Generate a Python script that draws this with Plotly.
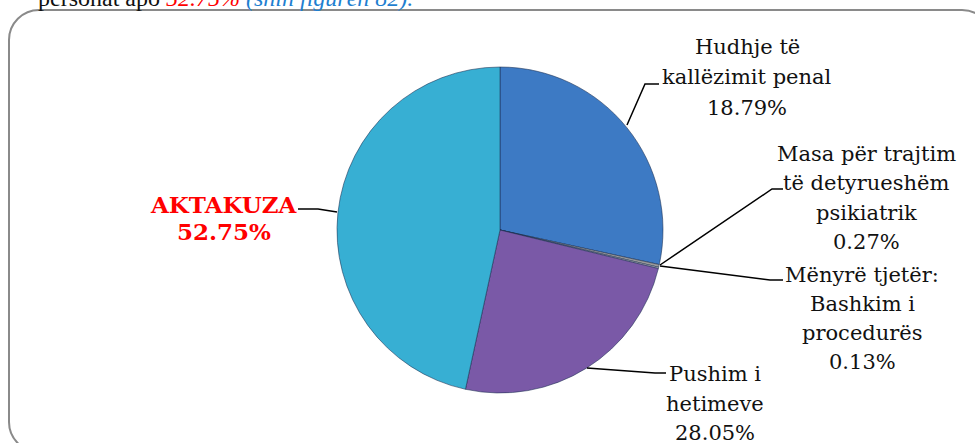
import plotly.graph_objects as go

W, H = 975, 443

# ---- data ----
categories = [
    "Hudhje të|kallëzimit penal",
    "Masa për trajtim|të detyrueshëm|psikiatrik",
    "Mënyrë tjetër:|Bashkim i|procedurës",
    "Pushim i|hetimeve",
    "AKTAKUZA",
]
pct_labels = ["18.79%", "0.27%", "0.13%", "28.05%", "52.75%"]
# slice sizes as drawn in the picture (angles measured)
slice_sizes = [28.4, 0.27, 0.13, 24.6, 46.6]
colors = ["#3D7AC4", "#9A9A9A", "#C9C9C9", "#7A59A7", "#37AFD3"]

LABEL_FONT = "DejaVu Serif, serif"
BODY_FONT = "Liberation Serif, serif"

def px(x):
    return x / W

def py(y):
    return 1 - y / H

fig = go.Figure()
fig.add_trace(go.Pie(
    labels=[c.replace("|", " ") for c in categories],
    values=slice_sizes,
    sort=False,
    direction="clockwise",
    rotation=0,
    textinfo="none",
    hoverinfo="label+percent",
    marker=dict(colors=colors, line=dict(color="rgba(25,45,80,0.55)", width=1)),
    domain=dict(x=[px(337), px(663)], y=[py(393), py(67)]),
    showlegend=False,
))

# label placement: (centre x, first-line y, line spacing) in pixels
label_pos = [(747, 47, 30.5), (866, 154, 29.5), (862, 275, 29.0), (715, 374, 29.5), (224, 204, 27.5)]
leaders = [
    [(627, 125), (645, 84), (659, 84)],
    [(660, 265), (772, 189), (783, 189)],
    [(660, 266), (770, 280), (783, 280)],
    [(587, 368), (655, 373), (666, 373)],
    [(337, 212), (318, 209), (298, 209)],
]

annotations = []
for i, (cat, pct) in enumerate(zip(categories, pct_labels)):
    x, y0, dy = label_pos[i]
    lines = cat.split("|") + [pct]
    bold = cat == "AKTAKUZA"
    for j, line in enumerate(lines):
        annotations.append(dict(
            x=px(x), y=py(y0 + j * dy), xref="paper", yref="paper",
            text=f"<b>{line}</b>" if bold else line,
            showarrow=False, align="center", xanchor="center", yanchor="middle",
            font=dict(family=LABEL_FONT, size=23 if bold else 21,
                      color="#FF0000" if bold else "#111111"),
        ))

# clipped body text above the frame
annotations.append(dict(
    x=px(36), y=py(13), xref="paper", yref="paper", xanchor="left", yanchor="bottom",
    showarrow=False,
    text=("<span style='color:#111'>personat apo </span>"
          "<span style='color:#FF0000'><i>52.75%</i></span> "
          "<span style='color:#1F7FD0'><i>(shih figurën 82).</i></span>"),
    font=dict(family=BODY_FONT, size=24, color="#111"),
))

shapes = []
for pts in leaders:
    d = "M " + " L ".join(f"{px(a)},{py(b)}" for a, b in pts)
    shapes.append(dict(type="path", path=d, xref="paper", yref="paper",
                       line=dict(color="black", width=1.5)))

# rounded frame
L, T, R, B, r = 9, 10, 992, 452, 30
k = 0.55 * r
frame = (
    f"M {px(L)},{py(T + r)} "
    f"C {px(L)},{py(T + r - k)} {px(L + r - k)},{py(T)} {px(L + r)},{py(T)} "
    f"L {px(R - r)},{py(T)} "
    f"C {px(R - r + k)},{py(T)} {px(R)},{py(T + r - k)} {px(R)},{py(T + r)} "
    f"L {px(R)},{py(B - r)} "
    f"C {px(R)},{py(B - r + k)} {px(R - r + k)},{py(B)} {px(R - r)},{py(B)} "
    f"L {px(L + r)},{py(B)} "
    f"C {px(L + r - k)},{py(B)} {px(L)},{py(B - r + k)} {px(L)},{py(B - r)} Z"
)
shapes.insert(0, dict(type="path", path=frame, xref="paper", yref="paper",
                      line=dict(color="#8A8A8A", width=2), layer="below"))

fig.update_layout(
    width=W, height=H,
    margin=dict(l=0, r=0, t=0, b=0),
    paper_bgcolor="white", plot_bgcolor="white",
    annotations=annotations, shapes=shapes,
)

fig.write_html(
    "out.html",
    config={"displayModeBar": False},
    post_script="document.body.style.margin='0';document.body.style.overflow='hidden';",
)
